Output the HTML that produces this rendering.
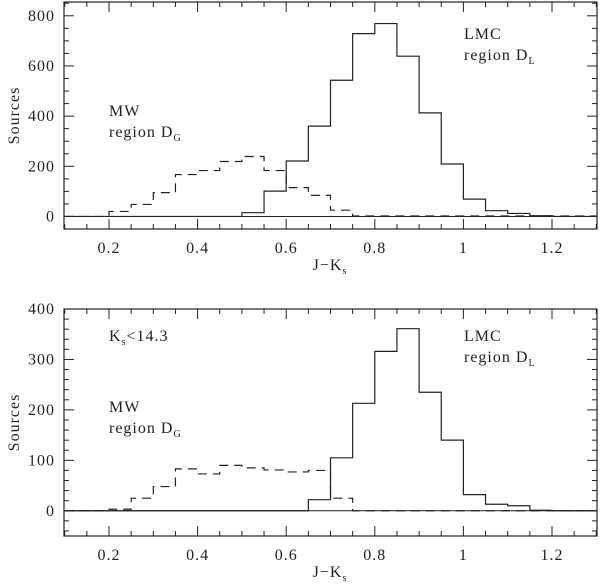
<!DOCTYPE html>
<html><head><meta charset="utf-8"><style>
html,body{margin:0;padding:0;background:#fff;}
svg text{font-family:"Liberation Serif",serif;fill:#222;letter-spacing:1px;}
</style></head><body>
<svg id="chart" width="600" height="582" xmlns="http://www.w3.org/2000/svg"></svg>
<script>
const binEdgesStart = 0.1, binWidth = 0.05;
const topLMC = [0,0,0,0,0,0,0,0,15,101,221,360,543,729,769,639,413,209,69,23,12,3,0,0];
const topMW  = [0,0,20,48,95,167,183,219,239,183,115,84,25,2,2,2,2,2,2,2,2,2,2,2];
const botLMC = [0,0,0,0,0,0,0,0,0,0,0,22,105,213,316,361,235,140,32,13,10,1,0,0];
const botMW  = [0,0,3,25,48,83,73,90,85,81,77,80,25,0,0,0,0,0,0,0,0,0,0,0];
const xTicks = [0.2,0.4,0.6,0.8,1.0,1.2];
const xTickLabels = ["0.2","0.4","0.6","0.8","1","1.2"];
const topYTicks = [0,200,400,600,800];
const botYTicks = [0,100,200,300,400];

const NS="http://www.w3.org/2000/svg";
const svg=document.getElementById('chart');
function mk(tag,attrs,parent){const e=document.createElementNS(NS,tag);for(const k in attrs)e.setAttribute(k,attrs[k]);(parent||svg).appendChild(e);return e;}
const X0=64, X1=597;
function xs(v){return 109+(v-0.2)*443;}

function panel(name,top,bottom,ymin,ymax,yMajor,yMinor,yTicks,lmc,mw){
  const g=mk('g',{});
  
  
  const ys=v=>bottom-(v-ymin)/(ymax-ymin)*(bottom-top);
  const fr=mk('rect',{x:X0,y:top,width:X1-X0,height:bottom-top,fill:'none',stroke:'#222','stroke-width':1.2},g);
  
  
  for(let v=0.1;v<=1.3001;v+=0.05){
    const x=xs(v); const maj=Math.abs(Math.round(v*5)-v*5)<1e-6; const L=maj?10:5;
    mk('line',{x1:x,y1:bottom,x2:x,y2:bottom-L,stroke:'#222'},g);
    mk('line',{x1:x,y1:top,x2:x,y2:top+L,stroke:'#222'},g);
  }
  xTicks.forEach((v,i)=>{const t=mk('text',{x:xs(v),y:bottom+24,'font-size':16,'text-anchor':'middle'},g);t.textContent=xTickLabels[i];
    
    });
  for(let v=Math.ceil(ymin/yMinor)*yMinor;v<=ymax;v+=yMinor){
    const y=ys(v); const L=(v%yMajor===0)?10:5;
    mk('line',{x1:X0,y1:y,x2:X0+L,y2:y,stroke:'#222'},g);
    mk('line',{x1:X1,y1:y,x2:X1-L,y2:y,stroke:'#222'},g);
  }
  yTicks.forEach(v=>{const t=mk('text',{x:X0-9,y:ys(v)+5,'font-size':16,'text-anchor':'end'},g);t.textContent=v;
    
    });
  mk('line',{x1:X0,y1:ys(0),x2:X1,y2:ys(0),stroke:'#222'},g);
  function hist(arr,dash,nm){
    let d='';
    arr.forEach((v,i)=>{const xa=xs(binEdgesStart+i*binWidth), xb=xs(binEdgesStart+(i+1)*binWidth);
      d+=(i===0?'M':'L')+xa+','+ys(v)+'L'+xb+','+ys(v);});
    const p=mk('path',{d:d,fill:'none',stroke:'#222','stroke-width':1.2,'stroke-dasharray':dash},g);
    
    
  }
  hist(mw,'9,6','mw-histogram');
  hist(lmc,'none','lmc-histogram');
  const xt=mk('text',{x:330,y:bottom+41,'font-size':16,'text-anchor':'middle'},g);
  xt.innerHTML='J\u2212K<tspan font-size="10" dy="4">s</tspan>';
  
  
  const cy=(top+bottom)/2;
  const yt=mk('text',{x:0,y:0,'font-size':16,'text-anchor':'middle',transform:`translate(19,${cy}) rotate(-90)`},g);
  yt.textContent='Sources';
  
  
  return {g,ys};
}
const p1=panel('top-panel',2,229,-50,855,200,50,topYTicks,topLMC,topMW);
const p2=panel('bottom-panel',309,536,-50,400,100,20,botYTicks,botLMC,botMW);
function label(x,y,html,name){const t=mk('text',{x:x,y:y,'font-size':16});t.innerHTML=html;
  
  }
label(109,116,'MW','mw-label-top');
label(109,137,'region  D<tspan font-size="10" dy="4">G</tspan>','mw-region-label-top');
label(464,39,'LMC','lmc-label-top');
label(464,60,'region  D<tspan font-size="10" dy="4">L</tspan>','lmc-region-label-top');
label(109,341,'K<tspan font-size="10" dy="4">s</tspan><tspan dy="-4">&lt;14.3</tspan>','ks-cut-label');
label(109,412,'MW','mw-label-bottom');
label(109,433,'region  D<tspan font-size="10" dy="4">G</tspan>','mw-region-label-bottom');
label(464,341,'LMC','lmc-label-bottom');
label(464,362,'region  D<tspan font-size="10" dy="4">L</tspan>','lmc-region-label-bottom');
</script>
</body></html>
